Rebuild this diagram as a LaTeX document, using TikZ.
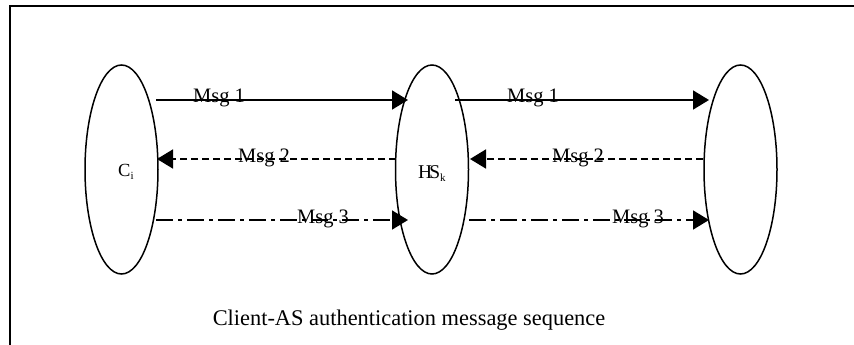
\documentclass[tikz,border=0pt]{standalone}
\usepackage{fontspec}
\setmainfont{Liberation Serif}
\usetikzlibrary{shapes.geometric,arrows.meta}
\tikzset{
  ell/.style={draw, ellipse, line width=1.5pt, minimum width=73pt, minimum height=209pt, inner sep=0pt},
  msgline/.style={line width=1.7pt, -{Triangle[length=16pt,width=19pt]}},
  dashedmsg/.style={msgline, dash pattern=on 7pt off 4pt},
  dashdotmsg/.style={msgline, dash pattern=on 17pt off 5pt on 4pt off 5pt},
  lbl/.style={font=\fontsize{20.5pt}{22pt}\selectfont, anchor=base, inner sep=0pt},
  frameline/.style={line width=2pt, line join=miter}
}
\begin{document}
\begin{tikzpicture}[x=1pt,y=-1pt]
\useasboundingbox (0,0) rectangle (854,345);
\coordinate (fb) at (10,345);
\coordinate (fc) at (10,6);
\coordinate (fr) at (854,6);
\draw[frameline] (fb) -- (fc) -- (fr);

\node[ell] (ci) at (121.5,169.5) {};
\node[ell] (hs) at (432,169.5) {};
\node[ell] (rt) at (740.5,169.5) {};

\node[anchor=base west, inner sep=0pt, font=\fontsize{18.5pt}{20pt}\selectfont] (cil) at (118,176.5) {C\raisebox{-3pt}{\fontsize{11pt}{12pt}\selectfont i}};
\node[anchor=base west, inner sep=0pt, font=\fontsize{19.5pt}{21pt}\selectfont] (hsl) at (418,178) {H\kern-3pt S\raisebox{-3pt}{\fontsize{11pt}{12pt}\selectfont k}};

% Msg 1
\draw[msgline] ([shift={(34.5,-69.5)}]ci.center) -- ([shift={(-24,-69.5)}]hs.center);
\draw[msgline] ([shift={(23,-69.5)}]hs.center) -- ([shift={(-31.5,-69.5)}]rt.center);
% Msg 2
\draw[dashedmsg] ([shift={(-36,-10.5)}]hs.center) -- ([shift={(35.5,-10.5)}]ci.center);
\draw[dashedmsg] ([shift={(-37.5,-10.5)}]rt.center) -- ([shift={(38,-10.5)}]hs.center);
% Msg 3
\draw[dashdotmsg] ([shift={(34.5,50.5)}]ci.center) -- ([shift={(-24,50.5)}]hs.center);
\draw[dashdotmsg] ([shift={(37,50.5)}]hs.center) -- ([shift={(-31.5,50.5)}]rt.center);

\node[lbl] (m1a) at (219,102) {Msg 1};
\node[lbl] (m1b) at (533,102) {Msg 1};
\node[lbl] (m2a) at (264,162) {Msg 2};
\node[lbl] (m2b) at (578,162) {Msg 2};
\node[lbl] (m3a) at (323,223) {Msg 3};
\node[lbl] (m3b) at (638,223) {Msg 3};

\node[anchor=base, inner sep=0pt, font=\fontsize{22.4pt}{24pt}\selectfont] (cap) at (409,325) {Client-AS authentication message sequence};
\end{tikzpicture}
\end{document}
